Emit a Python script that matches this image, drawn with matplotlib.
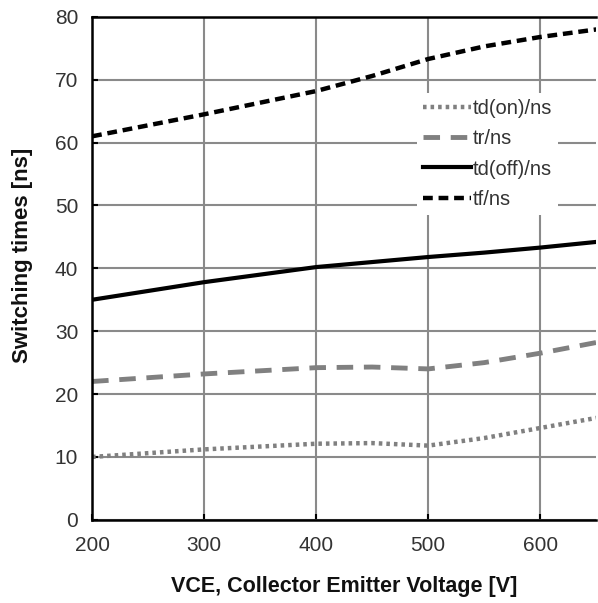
import matplotlib
matplotlib.use("Agg")
import matplotlib.pyplot as plt

plt.rcParams['font.family'] = ['Liberation Sans', 'DejaVu Sans']

vce = [200, 300, 400, 450, 500, 550, 600, 650]
td_on = [10.0, 11.2, 12.1, 12.2, 11.8, 13.0, 14.6, 16.2]
tr = [22.0, 23.2, 24.2, 24.3, 24.0, 25.0, 26.5, 28.2]
td_off = [35.0, 37.8, 40.2, 41.0, 41.8, 42.5, 43.3, 44.2]
tf = [61.0, 64.5, 68.2, 70.6, 73.3, 75.3, 76.8, 78.0]

xticks = [200, 300, 400, 500, 600]
yticks = [0, 10, 20, 30, 40, 50, 60, 70, 80]

fig = plt.figure(figsize=(5.98, 6.03), dpi=100)
ax = fig.add_axes([0.154, 0.138, 0.843, 0.834])

gray = '#808080'
ax.plot(vce, td_on, color=gray, lw=3.2, linestyle=(0, (0.8, 0.9)), label='td(on)/ns')
ax.plot(vce, tr, color=gray, lw=3.5, linestyle=(0, (3.4, 2.2)), label='tr/ns')
ax.plot(vce, td_off, color='black', lw=3.0, linestyle='-', label='td(off)/ns')
ax.plot(vce, tf, color='black', lw=3.2, linestyle=(0, (2.2, 1.3)), label='tf/ns')

ax.set_xlim(200, 650)
ax.set_ylim(0, 80)
ax.set_xticks(xticks)
ax.set_yticks(yticks)
ax.grid(True, color='#8a8a8a', lw=1.5)
ax.set_axisbelow(True)
ax.tick_params(direction='in', length=4, width=1.5, labelsize=15, colors='black',
               labelcolor='#333333')
ax.tick_params(axis='y', pad=10)
ax.tick_params(axis='x', pad=12)
for side in ['left', 'bottom', 'top']:
    ax.spines[side].set_linewidth(1.8)
    ax.spines[side].set_color('black')
ax.spines['right'].set_visible(False)

ax.set_xlabel('VCE, Collector Emitter Voltage [V]', fontsize=15.5, fontweight='bold',
              labelpad=15, color='#111111')
ax.set_ylabel('Switching times [ns]', fontsize=16, fontweight='bold',
              labelpad=16, color='#111111')
ax.yaxis.label.set_y(0.525)

leg = ax.legend(loc='upper right', bbox_to_anchor=(0.944, 0.868), frameon=True,
                fontsize=14.5, handlelength=2.4, handletextpad=0.05, labelspacing=0.55,
                borderpad=0.3, labelcolor='#333333')
leg.get_frame().set_edgecolor('none')
leg.get_frame().set_facecolor('white')
leg.get_frame().set_alpha(1)

fig.savefig('out.png', dpi=100)
